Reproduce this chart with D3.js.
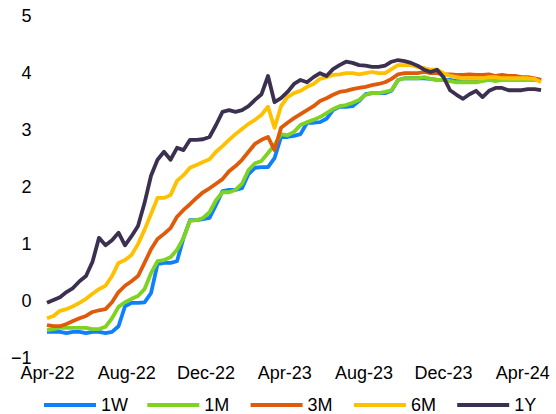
<!DOCTYPE html>
<html>
<head>
<meta charset="utf-8">
<script src="https://cdn.jsdelivr.net/npm/d3@7"></script>
<style>
  html, body { margin: 0; padding: 0; background: #fff; }
  svg { display: block; }
  text { font-family: "Liberation Sans", Arial, sans-serif; fill: #000; }
</style>
</head>
<body>
<svg id="chart" width="556" height="414"></svg>
<script>
// ---- data (one observation every 10 days from 1 Apr 2022) ----
const startDate = new Date(2022, 3, 1);
const stepDays = 10;

const seriesNames = ["1W", "1M", "3M", "6M", "1Y"];
const seriesColors = ["#0E80FF", "#7ED321", "#DF5A0A", "#FFC000", "#3C3050"];

const w1 = [-0.56,-0.56,-0.56,-0.58,-0.56,-0.56,-0.58,-0.56,-0.56,-0.58,-0.56,-0.46,-0.11,-0.05,-0.05,-0.04,0.12,0.63,0.65,0.65,
  0.68,1.09,1.40,1.40,1.42,1.44,1.67,1.91,1.93,1.93,1.96,2.21,2.32,2.33,2.33,2.49,2.86,2.86,2.88,2.91,
  3.11,3.11,3.12,3.18,3.33,3.39,3.39,3.40,3.49,3.61,3.63,3.63,3.63,3.67,3.86,3.89,3.89,3.89,3.89,3.88,
  3.86,3.86,3.86,3.84,3.84,3.86,3.86,3.86,3.86,3.86,3.86,3.86,3.86,3.86,3.86,3.88,3.86];
const m1 = [-0.53,-0.51,-0.49,-0.49,-0.49,-0.49,-0.49,-0.51,-0.51,-0.47,-0.32,-0.12,-0.04,0.02,0.07,0.19,0.47,0.68,0.70,0.75,
  0.88,1.09,1.39,1.40,1.44,1.54,1.75,1.89,1.89,1.93,2.04,2.28,2.40,2.44,2.58,2.72,2.91,2.89,2.95,3.07,
  3.12,3.16,3.21,3.28,3.35,3.40,3.42,3.46,3.51,3.60,3.63,3.63,3.65,3.68,3.86,3.89,3.89,3.89,3.91,3.88,
  3.86,3.86,3.84,3.82,3.82,3.82,3.82,3.84,3.86,3.84,3.86,3.86,3.86,3.86,3.86,3.86,3.86];
const m3 = [-0.44,-0.46,-0.46,-0.42,-0.37,-0.32,-0.28,-0.21,-0.18,-0.16,-0.04,0.14,0.25,0.33,0.42,0.65,0.89,1.07,1.16,1.26,
  1.46,1.58,1.68,1.79,1.89,1.96,2.04,2.12,2.26,2.35,2.46,2.60,2.74,2.81,2.86,2.63,3.02,3.11,3.19,3.26,
  3.33,3.40,3.49,3.54,3.60,3.65,3.67,3.70,3.72,3.74,3.77,3.79,3.82,3.88,3.96,3.98,3.98,3.98,4.00,3.98,
  3.98,3.96,3.96,3.95,3.95,3.96,3.95,3.95,3.96,3.93,3.95,3.93,3.93,3.91,3.91,3.89,3.86];
const m6 = [-0.32,-0.28,-0.19,-0.16,-0.11,-0.05,0.02,0.11,0.19,0.25,0.42,0.65,0.70,0.79,0.98,1.23,1.51,1.79,1.79,1.84,
  2.09,2.19,2.32,2.37,2.42,2.47,2.60,2.70,2.81,2.91,3.00,3.09,3.16,3.25,3.39,3.02,3.40,3.56,3.63,3.67,
  3.74,3.79,3.88,3.91,3.95,3.96,3.98,3.98,3.96,3.98,4.00,3.98,3.98,4.05,4.12,4.12,4.12,4.09,4.07,4.04,
  4.04,3.98,3.93,3.91,3.89,3.89,3.89,3.89,3.91,3.91,3.89,3.89,3.89,3.89,3.89,3.88,3.82];
const y1 = [-0.05,0.00,0.05,0.14,0.21,0.33,0.42,0.67,1.09,0.96,1.05,1.18,0.96,1.12,1.30,1.70,2.18,2.46,2.60,2.46,
  2.67,2.63,2.81,2.81,2.82,2.86,3.07,3.30,3.33,3.30,3.33,3.40,3.51,3.61,3.93,3.47,3.54,3.65,3.79,3.86,
  3.82,3.91,3.98,3.93,4.05,4.12,4.18,4.16,4.12,4.11,4.09,4.09,4.11,4.18,4.21,4.19,4.16,4.11,4.04,4.00,
  4.04,3.91,3.68,3.60,3.53,3.61,3.67,3.56,3.67,3.72,3.72,3.68,3.68,3.68,3.70,3.70,3.68];
const seriesValues = [w1, m1, m3, m6, y1];

const yTicks = [-1, 0, 1, 2, 3, 4, 5];
const xTickDates = [new Date(2022,3,1), new Date(2022,7,1), new Date(2022,11,1), new Date(2023,3,1),
                    new Date(2023,7,1), new Date(2023,11,1), new Date(2024,3,1)];
const xTickFormat = d3.timeFormat("%b-%y");

// ---- chart ----
const svg = d3.select("#chart");
const dates = w1.map((_, i) => d3.timeDay.offset(startDate, i * stepDays));

const x = d3.scaleTime()
  .domain([new Date(2022,3,1), new Date(2024,3,1)])
  .range([47, 522.2]);
const y = d3.scaleLinear().domain([-1, 5]).range([357, 15]);

// y axis (labels only)
const yAxis = d3.axisLeft(y).tickValues(yTicks).tickSize(0).tickPadding(0).tickFormat(d3.format("d"));
const gy = svg.append("g").attr("transform", "translate(31.5,0)").call(yAxis);
gy.select(".domain").remove();
gy.selectAll("text").attr("font-size", 18).attr("font-family", "Liberation Sans, Arial, sans-serif")
  .attr("fill", "#000").attr("dy", "0.36em").attr("x", 0);

// x axis (labels only)
const xAxis = d3.axisBottom(x).tickValues(xTickDates).tickSize(0).tickPadding(0).tickFormat(xTickFormat);
const gx = svg.append("g").attr("transform", "translate(0,366)").call(xAxis);
gx.select(".domain").remove();
gx.selectAll("text").attr("font-size", 18).attr("font-family", "Liberation Sans, Arial, sans-serif")
  .attr("fill", "#000").attr("dy", "0.72em");

// lines
const line = d3.line()
  .x((d, i) => x(dates[i]))
  .y(d => y(d));

seriesValues.forEach((vals, k) => {
  svg.append("path")
    .datum(vals)
    .attr("fill", "none")
    .attr("stroke", seriesColors[k])
    .attr("stroke-width", 3.8)
    .attr("stroke-linejoin", "round")
    .attr("stroke-linecap", "butt")
    .attr("d", line);
});

// legend
const legend = svg.append("g").attr("transform", "translate(44,405)");
seriesNames.forEach((name, k) => {
  const g = legend.append("g").attr("transform", `translate(${k * 103.3},0)`);
  g.append("line").attr("x1", 0).attr("x2", 52).attr("y1", 0).attr("y2", 0)
    .attr("stroke", seriesColors[k]).attr("stroke-width", 4);
  g.append("text").attr("x", 57).attr("y", 5.5).attr("font-size", 18).text(name);
});
</script>
</body>
</html>
